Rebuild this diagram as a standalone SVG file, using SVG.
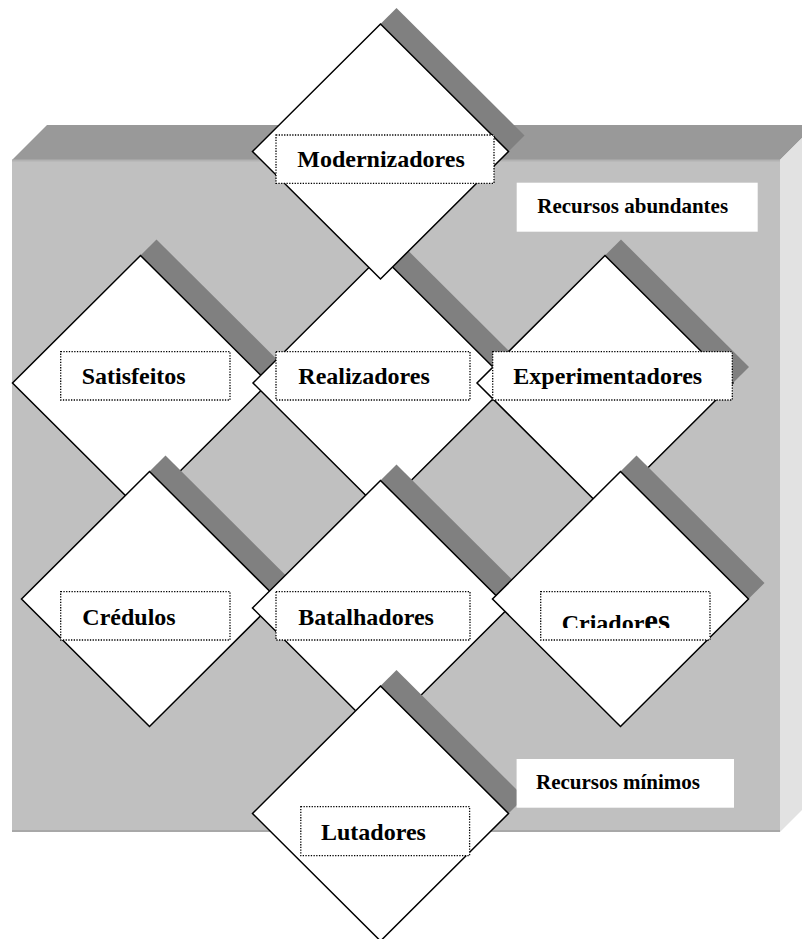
<svg xmlns="http://www.w3.org/2000/svg" width="802" height="939" viewBox="0 0 802 939">
  <style>
    .shadow { fill: #808080; }
    .diamond { fill: #ffffff; stroke: #000000; stroke-width: 1.5; stroke-linejoin: miter; }
    .tag { fill: #ffffff; stroke: #000000; stroke-width: 1.3; stroke-dasharray: 1.3 1.4; }
    .plain { fill: #ffffff; }
    .lbl { font-family: "Liberation Serif", "Times New Roman", serif; font-weight: bold; font-size: 24px; fill: #000000; }
    .res { font-family: "Liberation Serif", "Times New Roman", serif; font-weight: bold; font-size: 21px; fill: #000000; }
  </style>
  <defs>
    <clipPath id="criadoresClip">
      <rect x="540" y="592" width="171" height="36"/>
    </clipPath>
  </defs>

  <rect x="0" y="0" width="802" height="939" fill="#ffffff"/>

  <!-- raised backdrop slab -->
  <g id="backdrop">
    <polygon points="12,160 47,125 815,125 780,160" fill="#999999"/>
    <polygon points="780,160 815,125 815,797 780,832" fill="#e2e2e2"/>
    <rect x="12" y="160" width="768" height="672" fill="#c0c0c0"/>
    <line x1="12" y1="160.5" x2="780" y2="160.5" stroke="#b2b2b2" stroke-width="2"/>
    <line x1="12" y1="831" x2="780" y2="831" stroke="#a8a8a8" stroke-width="2"/>
  </g>

  <g id="satisfeitos">
    <polygon class="shadow" points="156.5,239.5 284.5,367 156.5,494.5 28.5,367"/>
    <polygon class="diamond" points="140.5,255.5 268.5,383 140.5,510.5 12.5,383"/>
    <rect class="tag" x="60.7" y="351.7" width="169.3" height="48.3"/>
    <text class="lbl" x="81.7" y="384.3">Satisfeitos</text>
  </g>

  <g id="realizadores">
    <polygon class="shadow" points="397,239.5 525,367 397,494.5 269,367"/>
    <polygon class="diamond" points="381,255.5 509,383 381,510.5 253,383"/>
    <rect class="tag" x="276" y="351.7" width="194" height="48.3"/>
    <text class="lbl" x="298.3" y="384.3">Realizadores</text>
  </g>

  <g id="experimentadores">
    <polygon class="shadow" points="621,239.5 749,367 621,494.5 493,367"/>
    <polygon class="diamond" points="605,255.5 733,383 605,510.5 477,383"/>
    <rect class="tag" x="492.7" y="351.7" width="239.6" height="48.3"/>
    <text class="lbl" x="513.3" y="384.3">Experimentadores</text>
  </g>

  <g id="modernizadores">
    <polygon class="shadow" points="396.5,8 524.5,135.5 396.5,263 268.5,135.5"/>
    <polygon class="diamond" points="380.5,24 508.5,151.5 380.5,279 252.5,151.5"/>
    <rect class="tag" x="276" y="135" width="218" height="48.3"/>
    <text class="lbl" x="297.3" y="166.7">Modernizadores</text>
  </g>

  <g id="credulos">
    <polygon class="shadow" points="165.5,455.5 293.5,583 165.5,710.5 37.5,583"/>
    <polygon class="diamond" points="149.5,471.5 277.5,599 149.5,726.5 21.5,599"/>
    <rect class="tag" x="60.7" y="591.7" width="169.3" height="48.3"/>
    <text class="lbl" x="82.3" y="625">Crédulos</text>
  </g>

  <g id="batalhadores">
    <polygon class="shadow" points="396.5,464.5 524.5,592 396.5,719.5 268.5,592"/>
    <polygon class="diamond" points="380.5,480.5 508.5,608 380.5,735.5 252.5,608"/>
    <rect class="tag" x="276" y="591.7" width="194" height="48.3"/>
    <text class="lbl" x="298.3" y="625">Batalhadores</text>
  </g>

  <g id="criadores">
    <polygon class="shadow" points="636.5,455.5 764.5,583 636.5,710.5 508.5,583"/>
    <polygon class="diamond" points="620.5,471.5 748.5,599 620.5,726.5 492.5,599"/>
    <rect class="tag" x="540.7" y="591.7" width="169.3" height="48.3"/>
    <text class="lbl" x="561.7" y="631" clip-path="url(#criadoresClip)">Criador<tspan font-size="31px">es</tspan></text>
  </g>

  <g id="lutadores">
    <polygon class="shadow" points="396.5,670 524.5,797.5 396.5,925 268.5,797.5"/>
    <polygon class="diamond" points="380.5,686 508.5,813.5 380.5,941 252.5,813.5"/>
    <rect class="tag" x="300.8" y="806.7" width="168.8" height="49"/>
    <text class="lbl" x="321" y="840">Lutadores</text>
  </g>

  <g id="recursos-abundantes">
    <rect class="plain" x="516.7" y="182.7" width="241" height="49"/>
    <text class="res" x="537.3" y="212.7">Recursos abundantes</text>
  </g>

  <g id="recursos-minimos">
    <rect class="plain" x="516.6" y="759" width="217.4" height="48.7"/>
    <text class="res" x="536" y="789">Recursos mínimos</text>
  </g>
</svg>
